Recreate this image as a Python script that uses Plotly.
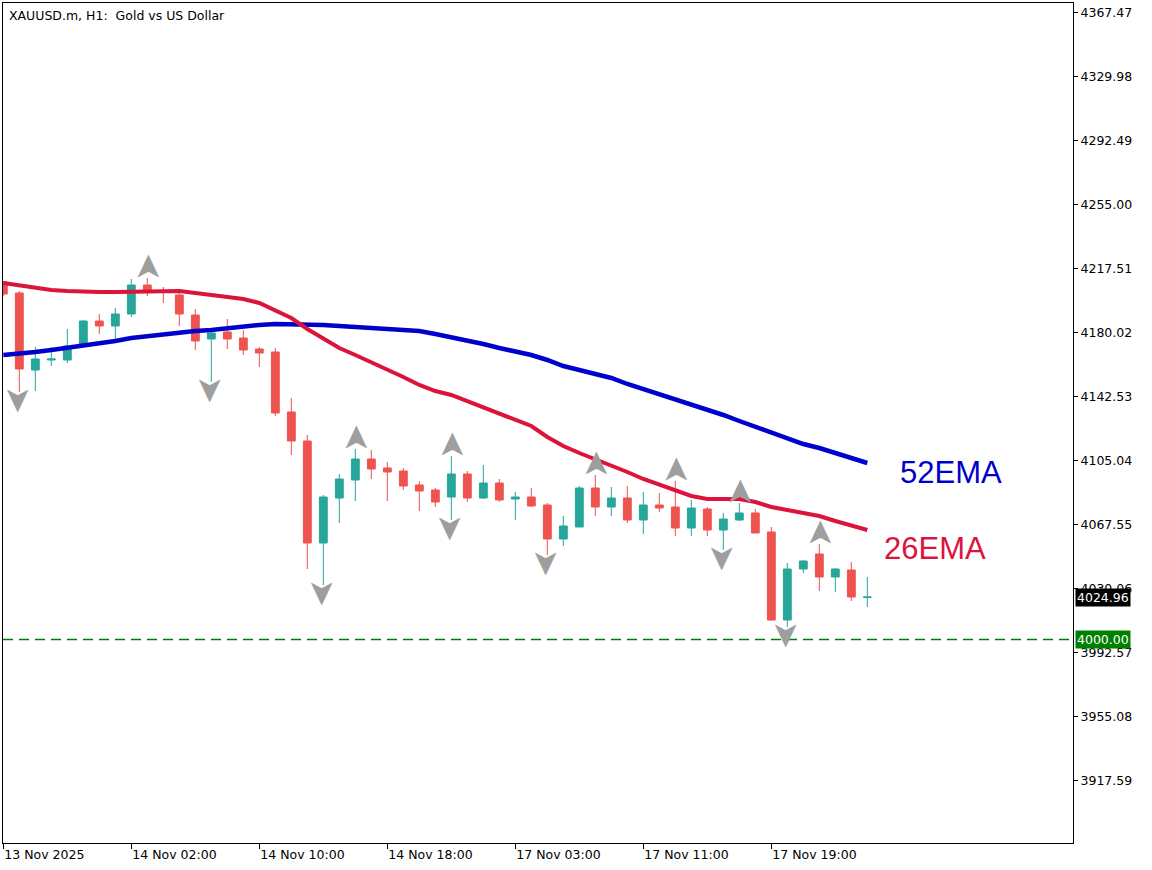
import plotly.graph_objects as go

# ---------------- data (XAUUSD.m H1) ----------------
opens = [4209.48, 4203.04, 4157.93, 4163.79, 4163.79, 4172.58, 4186.63, 4183.71, 4190.74, 4207.72,
         4204.21, 4201.87, 4190.15, 4176.09, 4180.19, 4176.68, 4170.23, 4168.48, 4133.33, 4116.34,
         4056.59, 4082.95, 4093.50, 4105.80, 4100.53, 4098.77, 4090.57, 4087.64, 4083.54, 4097.01,
         4082.95, 4091.74, 4082.37, 4083.54, 4078.85, 4058.94, 4065.96, 4088.81, 4077.68, 4082.95,
         4070.07, 4078.85, 4077.68, 4065.38, 4076.51, 4064.21, 4070.07, 4074.17, 4063.04, 4011.49,
         4041.36, 4050.15, 4036.68, 4040.78, 4024.70]
highs = [4210.07, 4204.21, 4171.41, 4171.41, 4181.95, 4187.22, 4190.74, 4194.25, 4211.24, 4211.82,
         4206.55, 4204.79, 4193.66, 4181.36, 4187.81, 4181.36, 4171.41, 4170.82, 4141.53, 4119.86,
         4084.71, 4097.01, 4111.66, 4111.07, 4104.04, 4100.53, 4092.91, 4088.81, 4107.55, 4098.77,
         4102.28, 4094.08, 4086.47, 4088.81, 4080.02, 4072.41, 4089.98, 4096.43, 4089.40, 4089.98,
         4086.47, 4085.88, 4092.91, 4081.78, 4077.68, 4074.17, 4080.02, 4076.51, 4065.96, 4044.88,
         4046.63, 4056.01, 4041.95, 4045.46, 4036.68]
lows = [4201.28, 4145.04, 4145.63, 4160.28, 4162.03, 4171.99, 4179.02, 4174.33, 4188.98, 4201.28,
        4197.18, 4183.71, 4169.65, 4150.90, 4170.23, 4166.72, 4159.69, 4130.99, 4108.14, 4041.36,
        4031.99, 4068.31, 4081.19, 4094.08, 4081.19, 4087.64, 4075.34, 4077.68, 4070.07, 4080.61,
        4082.37, 4080.61, 4070.07, 4077.68, 4049.56, 4054.83, 4065.96, 4072.41, 4072.41, 4068.31,
        4061.86, 4074.75, 4060.69, 4060.69, 4060.69, 4052.49, 4069.48, 4062.45, 4010.90, 4007.39,
        4039.02, 4028.47, 4027.89, 4022.62, 4019.10]
closes = [4202.45, 4158.52, 4164.38, 4164.38, 4171.99, 4186.63, 4183.71, 4190.74, 4207.72, 4203.62,
          4203.62, 4190.74, 4174.92, 4179.61, 4176.09, 4169.65, 4167.89, 4132.74, 4116.34, 4056.59,
          4083.54, 4094.08, 4105.80, 4099.94, 4098.18, 4089.98, 4087.05, 4080.61, 4097.01, 4082.95,
          4091.74, 4081.78, 4083.54, 4078.27, 4058.94, 4066.55, 4088.81, 4077.68, 4082.95, 4070.07,
          4078.85, 4077.09, 4065.38, 4077.09, 4064.21, 4070.65, 4074.17, 4062.45, 4011.49, 4041.36,
          4046.05, 4036.68, 4041.36, 4024.96, 4024.96]

ema26 = [4208.90, 4207.72, 4206.55, 4204.79, 4204.21, 4203.62, 4203.62, 4203.62, 4203.62, 4204.21,
         4204.21, 4204.21, 4203.04, 4201.87, 4200.69, 4199.52, 4197.18, 4193.08, 4188.39, 4181.95,
         4176.09, 4170.82, 4166.72, 4162.62, 4157.93, 4153.83, 4149.15, 4145.63, 4143.29, 4139.77,
         4136.26, 4132.74, 4128.64, 4125.13, 4118.68, 4113.41, 4109.31, 4105.80, 4101.70, 4098.18,
         4094.08, 4090.57, 4087.64, 4084.12, 4082.37, 4082.37, 4082.37, 4080.61, 4077.68, 4075.92,
         4074.17, 4072.41, 4069.48, 4067.14, 4064.21]
ema52 = [4166.72, 4167.30, 4168.48, 4169.65, 4170.82, 4171.99, 4173.16, 4174.92, 4176.68, 4177.85,
         4179.02, 4179.61, 4180.78, 4181.36, 4182.53, 4183.12, 4184.29, 4184.88, 4184.88, 4184.88,
         4184.29, 4183.71, 4183.12, 4183.12, 4182.53, 4181.95, 4180.78, 4179.02, 4177.26, 4174.92,
         4173.16, 4170.82, 4169.06, 4166.72, 4163.79, 4160.28, 4157.93, 4155.59, 4153.25, 4149.73,
         4146.80, 4143.87, 4140.94, 4137.43, 4134.50, 4131.57, 4128.06, 4124.54, 4121.03, 4117.51,
         4114.58, 4112.24, 4109.31, 4106.38, 4103.45]

fractal_up_bars = [9, 22, 28, 37, 42, 46, 51]
fractal_down_bars = [1, 13, 20, 28, 34, 45, 49]

x_tick_bars = [0, 8, 16, 24, 32, 40, 48]
x_tick_labels = ["13 Nov 2025", "14 Nov 02:00", "14 Nov 10:00", "14 Nov 18:00",
                 "17 Nov 03:00", "17 Nov 11:00", "17 Nov 19:00"]
y_tick_values = [3917.59, 3955.08, 3992.57, 4030.06, 4067.55, 4105.04, 4142.53,
                 4180.02, 4217.51, 4255.00, 4292.49, 4329.98, 4367.47]

last_price = 4024.96
level_price = 4000.00

# ---------------- figure ----------------
bars = list(range(len(opens)))
FONT = "DejaVu Sans"

fig = go.Figure()

fig.add_trace(go.Candlestick(
    x=bars, open=opens, high=highs, low=lows, close=closes,
    increasing=dict(line=dict(color="#26A69A", width=1), fillcolor="#26A69A"),
    decreasing=dict(line=dict(color="#EF5350", width=1), fillcolor="#EF5350"),
    whiskerwidth=0, showlegend=False, hoverinfo="skip",
))

fig.add_trace(go.Scatter(x=bars, y=ema52, mode="lines",
                         line=dict(color="#0000CD", width=4.5), showlegend=False, hoverinfo="skip"))
fig.add_trace(go.Scatter(x=bars, y=ema26, mode="lines",
                         line=dict(color="#DC143C", width=4), showlegend=False, hoverinfo="skip"))

# 4000 level
fig.add_shape(type="line", xref="paper", x0=0, x1=1, yref="y", y0=level_price, y1=level_price,
              line=dict(color="rgb(0,128,0)", width=1.5, dash="10px,6px"))

annotations = [
    dict(xref="paper", yref="paper", x=0, y=1, xanchor="left", yanchor="top", xshift=4, yshift=-3,
         text="XAUUSD.m, H1:\u00a0 Gold vs US Dollar", showarrow=False,
         font=dict(family=FONT, size=12.5, color="black")),
    dict(xref="x", yref="y", x=59.2, y=4097.6, xanchor="center", yanchor="middle",
         text="52EMA", showarrow=False,
         font=dict(family="Liberation Sans, Arial", size=31, color="#0000CD")),
    dict(xref="x", yref="y", x=58.2, y=4053.1, xanchor="center", yanchor="middle",
         text="26EMA", showarrow=False,
         font=dict(family="Liberation Sans, Arial", size=31, color="#DC143C")),
    dict(xref="paper", yref="y", x=1, y=last_price, xanchor="left", yanchor="middle", xshift=2,
         text=f"{last_price:.2f}", showarrow=False, bgcolor="black", borderpad=1,
         font=dict(family=FONT, size=12.5, color="white")),
    dict(xref="paper", yref="y", x=1, y=level_price, xanchor="left", yanchor="middle", xshift=2,
         text=f"{level_price:.2f}", showarrow=False, bgcolor="#008000", borderpad=1,
         font=dict(family=FONT, size=12.5, color="white")),
]

# fractal arrows as rotated arrowhead glyphs
for i in fractal_up_bars:
    annotations.append(dict(xref="x", yref="y", x=i, y=highs[i], yshift=11,
                            xanchor="center", yanchor="middle", showarrow=False,
                            text="\u27a4", textangle=-90,
                            font=dict(family=FONT, size=34, color="#9E9E9E")))
for i in fractal_down_bars:
    annotations.append(dict(xref="x", yref="y", x=i, y=lows[i], yshift=-8,
                            xanchor="center", yanchor="middle", showarrow=False,
                            text="\u27a4", textangle=90,
                            font=dict(family=FONT, size=34, color="#9E9E9E")))

fig.update_layout(
    width=1152, height=870,
    margin=dict(l=3, r=79, t=3, b=27),
    paper_bgcolor="white", plot_bgcolor="white",
    showlegend=False,
    annotations=annotations,
    boxgap=0.3,
    font=dict(family=FONT, size=12.5, color="black"),
)

fig.update_xaxes(
    range=[-0.02, 66.855], rangeslider=dict(visible=False),
    tickmode="array", tickvals=x_tick_bars, ticktext=x_tick_labels,
    ticks="outside", ticklen=5, tickcolor="black",
    ticklabelposition="outside right",
    showgrid=False, zeroline=False,
    showline=True, linecolor="black", linewidth=1, mirror=True,
    tickfont=dict(family=FONT, size=12.5, color="black"),
)
fig.update_yaxes(
    range=[3880.86, 4372.91], side="right",
    tickmode="array", tickvals=y_tick_values, ticktext=[f"{v:.2f}" for v in y_tick_values],
    ticks="outside", ticklen=4, tickcolor="black",
    showgrid=False, zeroline=False,
    showline=True, linecolor="black", linewidth=1, mirror=True,
    tickfont=dict(family=FONT, size=12.5, color="black"),
)

fig.write_html("out.html", config={"displayModeBar": False},
               post_script="document.body.style.margin='0px';document.body.style.overflow='hidden';")
